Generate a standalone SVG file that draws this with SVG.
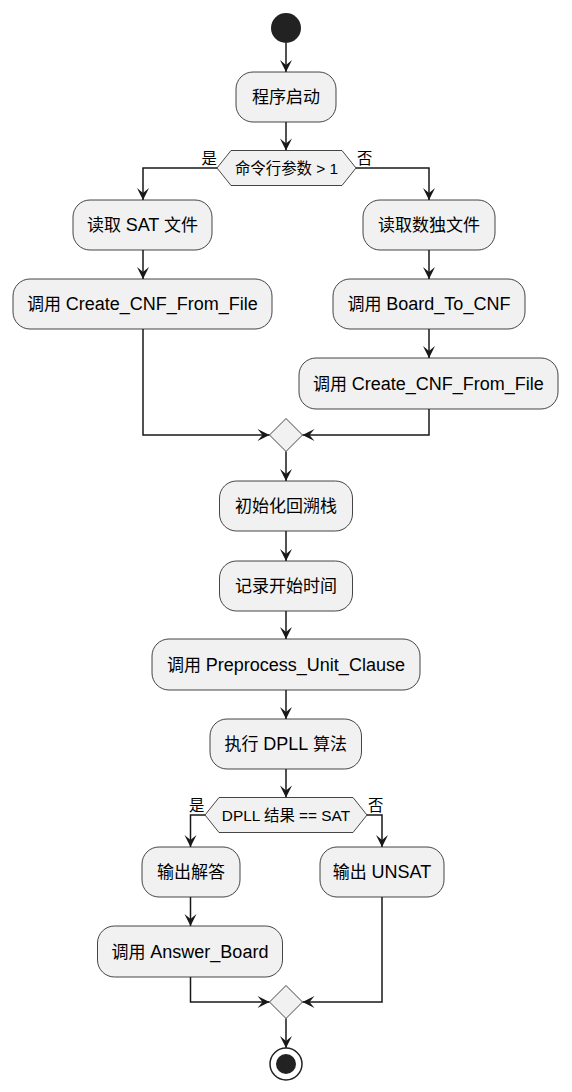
<svg xmlns="http://www.w3.org/2000/svg" width="572" height="1092" viewBox="0 0 572 1092">
<style>
.box{fill:#F1F1F1;stroke:#181818;stroke-width:0.8}
.dia{fill:#F1F1F1;stroke:#181818;stroke-width:0.8}
.t{font-family:"Liberation Sans","Noto Sans CJK SC",sans-serif;font-size:17px;fill:#000;text-anchor:middle}
.l{font-size:18px}
.ts{font-family:"Liberation Sans","Noto Sans CJK SC",sans-serif;font-size:15.4px;fill:#000;text-anchor:middle}
.lb{font-family:"Liberation Sans","Noto Sans CJK SC",sans-serif;font-size:15.4px;fill:#000}
.c{fill:none;stroke:#181818;stroke-width:1.5}
</style>
<defs>
<marker id="arr" viewBox="-13 -7 14 14" refX="0" refY="0" markerWidth="14" markerHeight="14" orient="auto" markerUnits="userSpaceOnUse">
<path d="M-12,-6 L0,0 L-12,6 L-7,0 Z" fill="#181818"/>
</marker>
</defs>
<g id="connectors">
<path class="c" marker-end="url(#arr)" d="M286,43 L286,72"/>
<path class="c" marker-end="url(#arr)" d="M286,122 L286,150.5"/>
<path class="c" marker-end="url(#arr)" d="M217,168 L143,168 L143,200"/>
<path class="c" marker-end="url(#arr)" d="M356,168 L429,168 L429,200"/>
<path class="c" marker-end="url(#arr)" d="M143,250 L143,279"/>
<path class="c" marker-end="url(#arr)" d="M429,250 L429,279"/>
<path class="c" marker-end="url(#arr)" d="M429,329 L429,358"/>
<path class="c" marker-end="url(#arr)" d="M143,329 L143,435 L269.5,435"/>
<path class="c" marker-end="url(#arr)" d="M429,409 L429,435 L302.5,435"/>
<path class="c" marker-end="url(#arr)" d="M286,451.5 L286,481"/>
<path class="c" marker-end="url(#arr)" d="M286,531 L286,561"/>
<path class="c" marker-end="url(#arr)" d="M286,611 L286,639"/>
<path class="c" marker-end="url(#arr)" d="M286,690 L286,719"/>
<path class="c" marker-end="url(#arr)" d="M286,769 L286,797.5"/>
<path class="c" marker-end="url(#arr)" d="M205,815 L190.5,815 L190.5,847"/>
<path class="c" marker-end="url(#arr)" d="M367,815 L382,815 L382,847"/>
<path class="c" marker-end="url(#arr)" d="M190.5,897 L190.5,926"/>
<path class="c" marker-end="url(#arr)" d="M190.5,977 L190.5,1002 L269.5,1002"/>
<path class="c" marker-end="url(#arr)" d="M382,897 L382,1002 L302.5,1002"/>
<path class="c" marker-end="url(#arr)" d="M286,1018.5 L286,1048"/>
<text class="lb" x="201.5" y="164">是</text>
<text class="lb" x="357" y="164">否</text>
<text class="lb" x="189" y="811">是</text>
<text class="lb" x="368" y="811">否</text>
</g>
<g id="start"><circle cx="286" cy="28" r="15" fill="#222222"/></g>
<g id="n1"><rect class="box" x="236" y="72" width="100" height="50" rx="17"/><text class="t" x="286" y="103">程序启动</text></g>
<g id="d1"><polygon class="dia" points="217,168 231,150.5 342,150.5 356,168 342,185.5 231,185.5"/><text class="ts" x="286.5" y="173.5">命令行参数 &gt; 1</text></g>
<g id="n2"><rect class="box" x="73" y="200" width="139" height="50" rx="17"/><text class="t" x="142.5" y="231">读取 <tspan class="l">SAT</tspan> 文件</text></g>
<g id="n3"><rect class="box" x="13" y="279" width="259" height="50" rx="17"/><text class="t" x="142.5" y="310">调用 <tspan class="l">Create_CNF_From_File</tspan></text></g>
<g id="n4"><rect class="box" x="363" y="200" width="132" height="50" rx="17"/><text class="t" x="429" y="231">读取数独文件</text></g>
<g id="n5"><rect class="box" x="333" y="279" width="192" height="50" rx="17"/><text class="t" x="429" y="310">调用 <tspan class="l">Board_To_CNF</tspan></text></g>
<g id="n6"><rect class="box" x="299" y="358" width="259" height="51" rx="17"/><text class="t" x="428.5" y="389.5">调用 <tspan class="l">Create_CNF_From_File</tspan></text></g>
<g id="m1"><polygon class="dia" points="286,418.5 302.5,435 286,451.5 269.5,435"/></g>
<g id="n7"><rect class="box" x="219.5" y="481" width="133" height="50" rx="17"/><text class="t" x="286" y="512">初始化回溯栈</text></g>
<g id="n8"><rect class="box" x="219.5" y="561" width="133" height="50" rx="17"/><text class="t" x="286" y="592">记录开始时间</text></g>
<g id="n9"><rect class="box" x="152" y="639" width="268" height="51" rx="17"/><text class="t" x="286" y="670.5">调用 <tspan class="l">Preprocess_Unit_Clause</tspan></text></g>
<g id="n10"><rect class="box" x="210" y="719" width="151.5" height="50" rx="17"/><text class="t" x="285.75" y="750">执行 <tspan class="l">DPLL</tspan> 算法</text></g>
<g id="d2"><polygon class="dia" points="205,815 219,797.5 353,797.5 367,815 353,832.5 219,832.5"/><text class="ts" x="286" y="820.5">DPLL 结果 == SAT</text></g>
<g id="n11"><rect class="box" x="142" y="847" width="98" height="50" rx="17"/><text class="t" x="191" y="878">输出解答</text></g>
<g id="n12"><rect class="box" x="320" y="847" width="124" height="50" rx="17"/><text class="t" x="382" y="878">输出 <tspan class="l">UNSAT</tspan></text></g>
<g id="n13"><rect class="box" x="97.5" y="926" width="185" height="51" rx="17"/><text class="t" x="190" y="957.5">调用 <tspan class="l">Answer_Board</tspan></text></g>
<g id="m2"><polygon class="dia" points="286,985.5 302.5,1002 286,1018.5 269.5,1002"/></g>
<g id="end"><circle cx="286" cy="1064" r="16" fill="none" stroke="#222222" stroke-width="1.5"/><circle cx="286" cy="1064" r="10" fill="#222222"/></g>
</svg>
